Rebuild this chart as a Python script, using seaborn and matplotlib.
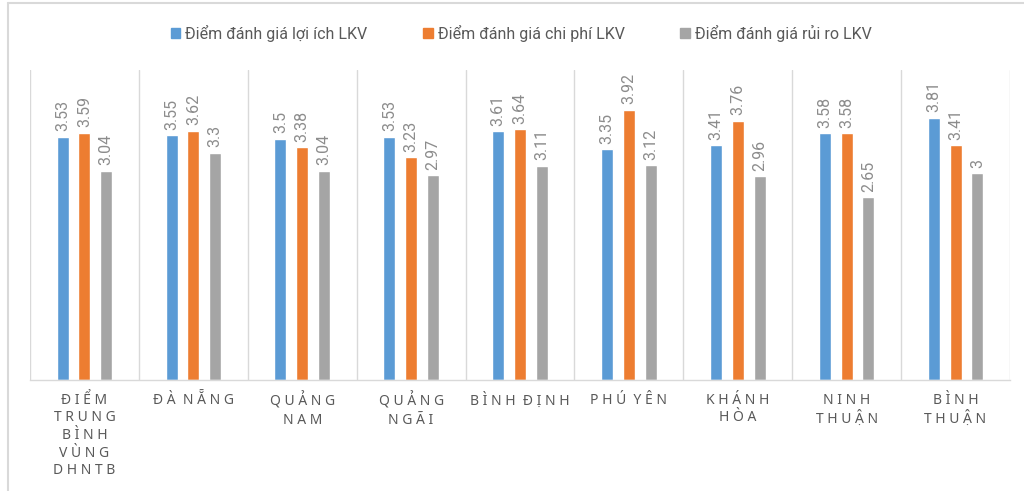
import matplotlib
matplotlib.use("Agg")
import matplotlib.pyplot as plt
import seaborn as sns
import pandas as pd
from matplotlib.lines import Line2D

categories = ["ĐIỂM TRUNG BÌNH VÙNG DHNTB", "ĐÀ NẴNG", "QUẢNG NAM", "QUẢNG NGÃI",
              "BÌNH ĐỊNH", "PHÚ YÊN", "KHÁNH HÒA", "NINH THUẬN", "BÌNH THUẬN"]
tick_labels = ["ĐIỂM\nTRUNG\nBÌNH\nVÙNG\nDHNTB", "ĐÀ NẴNG", "QUẢNG\nNAM", "QUẢNG\nNGÃI",
               "BÌNH ĐỊNH", "PHÚ YÊN", "KHÁNH\nHÒA", "NINH\nTHUẬN", "BÌNH\nTHUẬN"]
series = ["Điểm đánh giá lợi ích LKV", "Điểm đánh giá chi phí LKV", "Điểm đánh giá rủi ro LKV"]
loi_ich = [3.53, 3.55, 3.50, 3.53, 3.61, 3.35, 3.41, 3.58, 3.81]
chi_phi = [3.59, 3.62, 3.38, 3.23, 3.64, 3.92, 3.76, 3.58, 3.41]
rui_ro = [3.04, 3.30, 3.04, 2.97, 3.11, 3.12, 2.96, 2.65, 3.00]
colors = ["#5B9BD5", "#ED7D31", "#A5A5A5"]

rows = []
for s, vals in zip(series, [loi_ich, chi_phi, rui_ro]):
    for c, v in zip(categories, vals):
        rows.append({"cat": c, "series": s, "value": v})
df = pd.DataFrame(rows)

sns.set_theme(style="white")
plt.rcParams["font.family"] = ["Roboto", "DejaVu Sans"]

fig = plt.figure(figsize=(10.24, 4.91), dpi=100)
ax = fig.add_axes([30/1024, 1-380/491, 980/1024, 310/491])

sns.barplot(data=df, x="cat", y="value", hue="series", order=categories,
            hue_order=series, palette=colors, width=0.6, gap=0.45,
            saturation=1, ax=ax, legend=False)

for cont in ax.containers:
    ax.bar_label(cont, fmt="{:g}", rotation=90, padding=4, fontsize=11.5,
                 color="#8C8C8C")

ax.set_ylim(0, 4.5)
ax.set_xlim(-0.5, len(categories) - 0.5)
ax.set_yticks([])
ax.set_ylabel("")
ax.set_xlabel("")

def spaced(t):
    return "\n".join("  ".join(" ".join(w) for w in line.split(" ")) for line in t.split("\n"))

ax.set_xticks(range(len(categories)))
ax.set_xticklabels([spaced(t) for t in tick_labels], fontsize=10, color="#595959",
                   linespacing=1.25, family=["Noto Sans", "DejaVu Sans"])
ax.tick_params(axis="x", which="major", length=0, pad=9)
ax.set_xticks([i + 0.5 for i in range(-1, len(categories))], minor=True)
ax.tick_params(axis="x", which="minor", length=5, color="#D9D9D9", width=1)
ax.grid(which="minor", axis="x", color="#D9D9D9", linewidth=1)
ax.grid(which="major", axis="both", visible=False)
for sp in ["top", "right", "left"]:
    ax.spines[sp].set_visible(False)
ax.spines["bottom"].set_color("#D9D9D9")
ax.spines["bottom"].set_linewidth(1)

handles = [plt.Rectangle((0, 0), 1, 1, color=c) for c in colors]
fig.legend(handles, series, loc="center", bbox_to_anchor=(0.509, 1-33/491), ncol=3,
           frameon=False, handlelength=0.6, handleheight=0.6,
           handletextpad=0.3, columnspacing=3.5, prop={"size": 11.5},
           labelcolor="#595959")

# partial chart frame
fig.add_artist(Line2D([8/1024, 8/1024], [0, 1-3/491], transform=fig.transFigure,
                      color="#D9D9D9", lw=1.5))
fig.add_artist(Line2D([8/1024, 1], [1-3/491, 1-3/491], transform=fig.transFigure,
                      color="#D9D9D9", lw=1.5))

fig.savefig("out.png", dpi=100)
